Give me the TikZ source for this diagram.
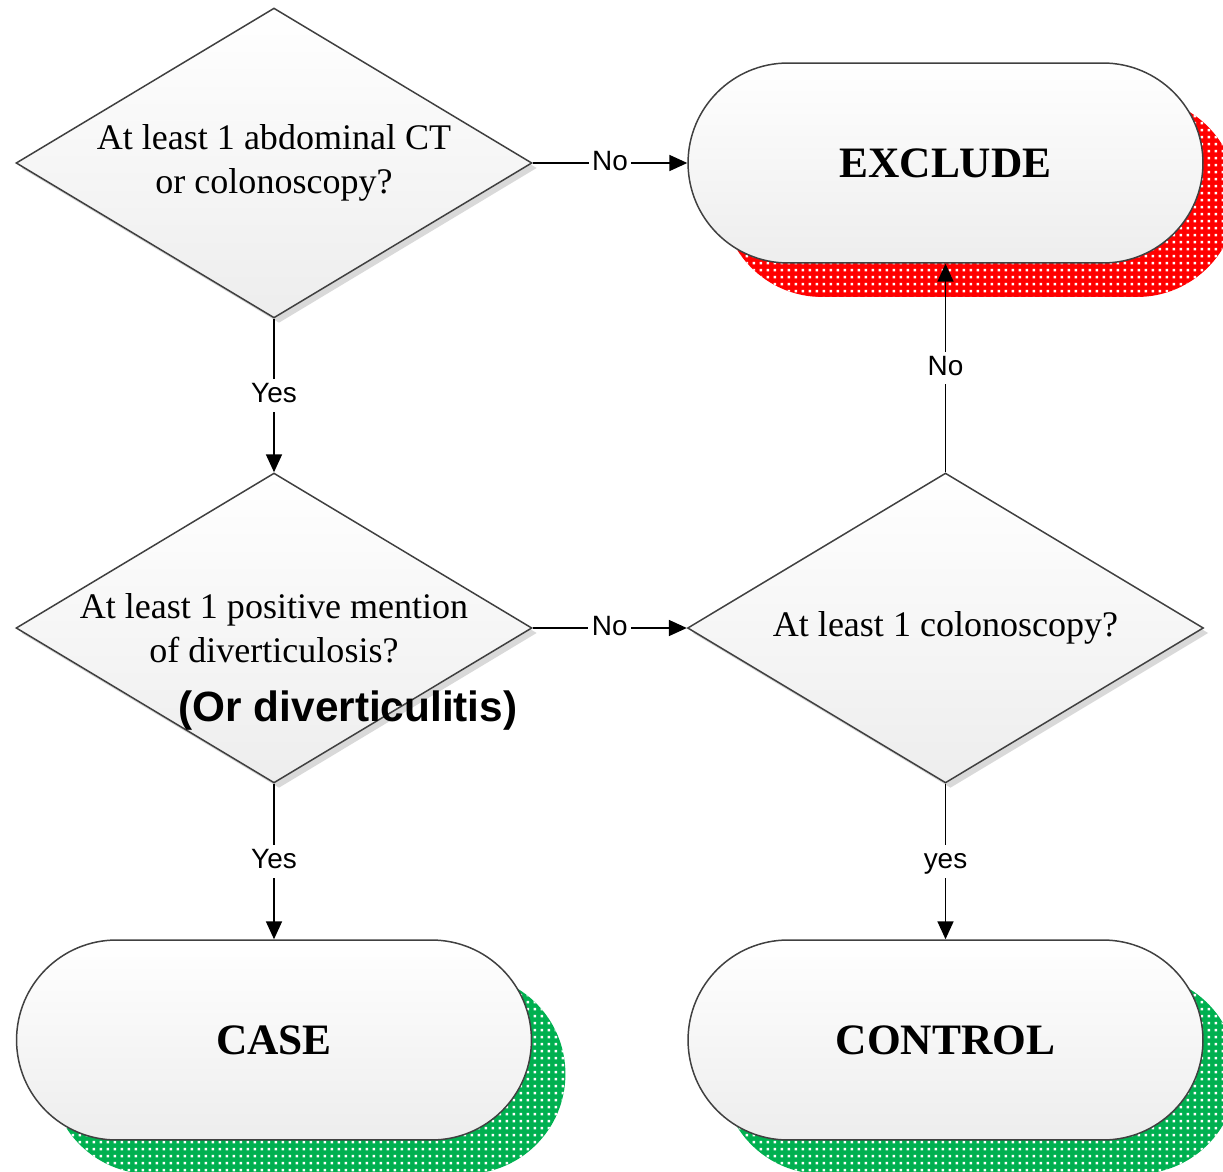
\documentclass[tikz,border=0pt]{standalone}
\usepackage{fontspec}
\setmainfont{Liberation Serif}
\newfontfamily\arialfont{Liberation Sans}
\usetikzlibrary{arrows.meta,shapes.geometric,shadows,patterns.meta}

\tikzdeclarepattern{
  name=squaredots, type=uncolored,
  bounding box={(0pt,0pt) and (4pt,4pt)},
  tile size={(4pt,4pt)},
  code={\fill (1.1pt,1.1pt) rectangle (2.7pt,2.7pt);}
}

\tikzset{
  decision/.style={diamond, draw=black!75, line width=0.85pt, inner sep=0pt,
    minimum width=10.32cm, minimum height=6.2cm,
    top color=white, bottom color=black!7,
    drop shadow={shadow xshift=0.1cm, shadow yshift=-0.1cm, fill=black!15, opacity=1}},
  question/.style={font=\fontsize{20.5}{25}\selectfont, align=center, inner sep=0pt},
  terminal/.style={rectangle, rounded corners=2cm, draw=black!75, line width=0.85pt,
    minimum width=10.3cm, minimum height=4cm,
    top color=white, bottom color=black!7,
    font=\fontsize{24.7}{30}\selectfont\bfseries},
  dotshadow/.style={
    general shadow={shadow xshift=0.68cm, shadow yshift=-0.68cm, fill=#1},
    general shadow={shadow xshift=0.68cm, shadow yshift=-0.68cm, pattern=squaredots, pattern color=white}},
  answer/.style={fill=white, inner sep=2pt, text height=11.4pt, text depth=3.3pt,
    font=\arialfont\fontsize{15.9}{18}\selectfont}
}
\definecolor{shadowgreen}{RGB}{0,176,80}

\begin{document}
\begin{tikzpicture}[x=0.02cm, y=-0.02cm, line width=1pt,
    >={Triangle[length=0.36cm, width=0.32cm]}]
            \useasboundingbox (0,0) rectangle (1223,1172);

            % Decision nodes
            \node[decision, label={[question]center:At least 1 abdominal CT\\or colonoscopy?}] (ct) at (274,163) {};
            \node[decision, label={[question]center:At least 1 positive mention\\of diverticulosis?}] (mention) at (274,628) {};
            \node[decision, label={[question]center:At least 1 colonoscopy?}] (colono) at (945.5,628) {};

            % Outcome nodes
            \node[terminal, dotshadow=red] (exclude) at (945.5,163) {EXCLUDE};
            \node[terminal, dotshadow=shadowgreen] (case) at (274,1040) {CASE};
            \node[terminal, dotshadow=shadowgreen] (control) at (945.5,1040) {CONTROL};

            % Note
            \node[font=\arialfont\bfseries\fontsize{24.1}{29}\selectfont] (note) at (348,711) {(Or diverticulitis)};

            % Connectors
            \draw[->] (ct.east) -- node[answer] {No} (exclude.west);
            \draw[->] (ct.south) -- node[answer] {Yes} (mention.north);
            \draw[->] (mention.east) -- node[answer] {No} (colono.west);
            \draw[->] (colono.north) -- node[answer] {No} (exclude.south);
            \draw[->] (mention.south) -- node[answer] {Yes} (case.north);
            \draw[->] (colono.south) -- node[answer] {yes} (control.north);
        \end{tikzpicture}
\end{document}
